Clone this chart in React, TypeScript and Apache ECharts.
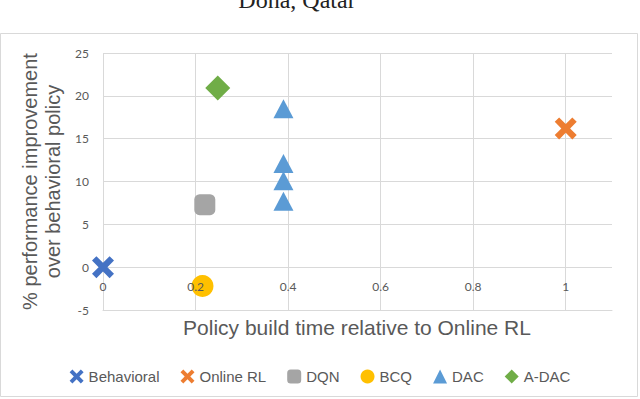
import React, { useEffect, useRef } from "react";
import * as echarts from "echarts";

const seriesNames = ["Behavioral", "Online RL", "DQN", "BCQ", "DAC", "A-DAC"];
const behavioral: number[][] = [[0, 0]];
const onlineRL: number[][] = [[1, 16.2]];
const dqn: number[][] = [[0.22, 7.3]];
const bcq: number[][] = [[0.215, -2.2]];
const dac: number[][] = [[0.39, 18.5], [0.39, 12.1], [0.39, 10.1], [0.39, 7.7]];
const aDac: number[][] = [[0.248, 20.9]];
const colors = ["#4472C4", "#ED7D31", "#A5A5A5", "#FFC000", "#5B9BD5", "#70AD47"];
const xTitle = "Policy build time relative to Online RL";
const yTitle = "% performance improvement\nover behavioral policy";
const pageTitle = "Doha, Qatar";

const X_PATH =
  "path://M0,4 L4,0 L10,6 L16,0 L20,4 L14,10 L20,16 L16,20 L10,14 L4,20 L0,16 L6,10 Z";

export default function App() {
  const ref = useRef<HTMLDivElement>(null);
  useEffect(() => {
    if (!ref.current) return;
    const chart = echarts.init(ref.current, null, { renderer: "svg" });
    const datasets = [behavioral, onlineRL, dqn, bcq, dac, aDac];
    const symbols = [X_PATH, X_PATH, "roundRect", "circle", "triangle", "diamond"];
    const sizes: any[] = [22, 22, 21, 22, [20, 19], 25];
    const xLabelFormatter = (v: number) =>
      Math.abs(v - 1.1) < 1e-6 ? "" : String(Math.round(v * 10) / 10);
    chart.setOption({
      animation: false,
      backgroundColor: "#ffffff",
      graphic: [
        {
          type: "rect",
          shape: { x: 0.5, y: 33.5, width: 637, height: 363 },
          style: { fill: "none", stroke: "#d9d9d9", lineWidth: 1 },
          silent: true,
        },
        {
          type: "text",
          x: 297,
          y: 12,
          style: {
            text: pageTitle,
            font: "24px 'Liberation Serif', 'DejaVu Serif', serif",
            fill: "#222",
            align: "center",
            verticalAlign: "bottom",
          },
        },
        {
          type: "text",
          x: 357,
          y: 327,
          style: {
            text: xTitle,
            font: "21px 'Liberation Sans', Arial, sans-serif",
            fill: "#595959",
            align: "center",
            verticalAlign: "middle",
          },
        },
      ],
      grid: { left: 103, right: 28, top: 53, bottom: 89, containLabel: false },
      xAxis: [
        {
          type: "value",
          min: 0,
          max: 1.1,
          interval: 0.2,
          axisLine: { show: true, onZero: false, lineStyle: { color: "#d9d9d9", width: 1 } },
          axisTick: { show: false },
          axisLabel: { show: false },
          splitLine: { show: true, showMaxLine: false, lineStyle: { color: "#d9d9d9", width: 1 } },
        },
        {
          type: "value",
          min: 0,
          max: 1.1,
          interval: 0.2,
          position: "bottom",
          offset: 0,
          z: 10,
          axisLine: { show: false, onZero: false },
          axisTick: { show: false },
          splitLine: { show: false },
          axisLabel: {
            color: "#595959",
            fontFamily: "Lato, 'Open Sans', sans-serif",
            fontSize: 12,
            margin: -30,
            showMaxLabel: false,
            formatter: xLabelFormatter,
          },
        },
      ],
      yAxis: {
        type: "value",
        min: -5,
        max: 25,
        interval: 5,
        name: yTitle,
        nameLocation: "middle",
        nameGap: 28,
        nameRotate: 90,
        nameTextStyle: {
          fontFamily: "'Liberation Sans', Arial, sans-serif",
          fontSize: 20,
          color: "#595959",
          lineHeight: 23,
        },
        axisLine: { show: false, onZero: false },
        axisTick: { show: false },
        axisLabel: {
          color: "#595959",
          fontFamily: "Lato, 'Open Sans', sans-serif",
          fontSize: 12,
          margin: 14,
        },
        splitLine: { show: true, lineStyle: { color: "#d9d9d9", width: 1 } },
      },
      legend: {
        data: seriesNames,
        top: 364,
        left: "center",
        itemWidth: 14,
        itemHeight: 14,
        itemGap: 21,
        textStyle: { fontFamily: "'Liberation Sans', Arial, sans-serif", fontSize: 15, color: "#595959" },
      },
      series: seriesNames.map((n, i) => ({
        name: n,
        type: "scatter",
        xAxisIndex: 0,
        data: datasets[i],
        symbol: symbols[i],
        symbolSize: sizes[i],
        itemStyle: { color: colors[i], opacity: 1 },
      })),
    });
    return () => chart.dispose();
  }, []);
  return (
    <div
      ref={ref}
      style={{ position: "fixed", left: 0, top: 0, width: 640, height: 399 }}
    />
  );
}
